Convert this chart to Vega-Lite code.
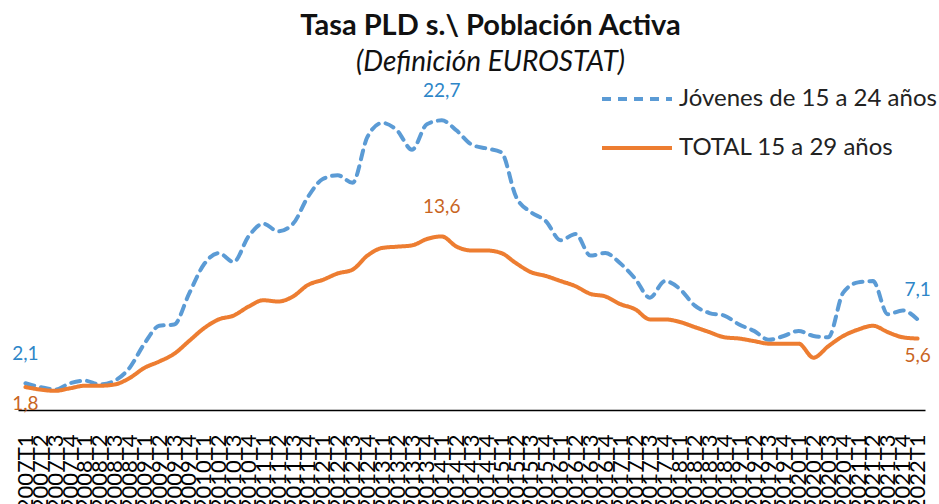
{
  "$schema": "https://vega.github.io/schema/vega-lite/v6.json",
  "width": 907,
  "height": 319,
  "autosize": "none",
  "padding": {"left": 18, "top": 91, "right": 14, "bottom": 94},
  "config": {
    "locale": {"number": {"decimal": ",", "thousands": ".", "grouping": [3], "currency": ["", " €"]}},
    "view": {"stroke": null},
    "font": "Lato"
  },
  "title": {
    "text": "Tasa PLD s.\\ Población Activa",
    "subtitle": "(Definición EUROSTAT)",
    "font": "Lato",
    "fontSize": 29,
    "fontWeight": "bold",
    "color": "#111111",
    "subtitleFont": "Lato",
    "subtitleFontSize": 28,
    "subtitleFontStyle": "italic",
    "subtitleColor": "#111111",
    "subtitlePadding": 8,
    "anchor": "middle",
    "dx": 19,
    "offset": -15
  },
  "data": {
    "values": [
      {"q": "2007T1", "Jóvenes de 15 a 24 años": 2.1, "TOTAL 15 a 29 años": 1.8},
      {"q": "2007T2", "Jóvenes de 15 a 24 años": 1.8, "TOTAL 15 a 29 años": 1.6},
      {"q": "2007T3", "Jóvenes de 15 a 24 años": 1.6, "TOTAL 15 a 29 años": 1.5},
      {"q": "2007T4", "Jóvenes de 15 a 24 años": 2.1, "TOTAL 15 a 29 años": 1.7},
      {"q": "2008T1", "Jóvenes de 15 a 24 años": 2.3, "TOTAL 15 a 29 años": 1.9},
      {"q": "2008T2", "Jóvenes de 15 a 24 años": 2.0, "TOTAL 15 a 29 años": 1.9},
      {"q": "2008T3", "Jóvenes de 15 a 24 años": 2.3, "TOTAL 15 a 29 años": 2.0},
      {"q": "2008T4", "Jóvenes de 15 a 24 años": 3.3, "TOTAL 15 a 29 años": 2.5},
      {"q": "2009T1", "Jóvenes de 15 a 24 años": 5.2, "TOTAL 15 a 29 años": 3.3},
      {"q": "2009T2", "Jóvenes de 15 a 24 años": 6.6, "TOTAL 15 a 29 años": 3.8},
      {"q": "2009T3", "Jóvenes de 15 a 24 años": 6.7, "TOTAL 15 a 29 años": 4.4},
      {"q": "2009T4", "Jóvenes de 15 a 24 años": 9.1, "TOTAL 15 a 29 años": 5.4},
      {"q": "2010T1", "Jóvenes de 15 a 24 años": 11.4, "TOTAL 15 a 29 años": 6.4},
      {"q": "2010T2", "Jóvenes de 15 a 24 años": 12.3, "TOTAL 15 a 29 años": 7.1},
      {"q": "2010T3", "Jóvenes de 15 a 24 años": 11.6, "TOTAL 15 a 29 años": 7.4},
      {"q": "2010T4", "Jóvenes de 15 a 24 años": 13.6, "TOTAL 15 a 29 años": 8.1},
      {"q": "2011T1", "Jóvenes de 15 a 24 años": 14.6, "TOTAL 15 a 29 años": 8.6},
      {"q": "2011T2", "Jóvenes de 15 a 24 años": 14.0, "TOTAL 15 a 29 años": 8.5},
      {"q": "2011T3", "Jóvenes de 15 a 24 años": 14.6, "TOTAL 15 a 29 años": 8.9},
      {"q": "2011T4", "Jóvenes de 15 a 24 años": 16.7, "TOTAL 15 a 29 años": 9.8},
      {"q": "2012T1", "Jóvenes de 15 a 24 años": 18.1, "TOTAL 15 a 29 años": 10.2},
      {"q": "2012T2", "Jóvenes de 15 a 24 años": 18.4, "TOTAL 15 a 29 años": 10.7},
      {"q": "2012T3", "Jóvenes de 15 a 24 años": 17.8, "TOTAL 15 a 29 años": 11.0},
      {"q": "2012T4", "Jóvenes de 15 a 24 años": 21.4, "TOTAL 15 a 29 años": 12.1},
      {"q": "2013T1", "Jóvenes de 15 a 24 años": 22.5, "TOTAL 15 a 29 años": 12.7},
      {"q": "2013T2", "Jóvenes de 15 a 24 años": 21.9, "TOTAL 15 a 29 años": 12.8},
      {"q": "2013T3", "Jóvenes de 15 a 24 años": 20.4, "TOTAL 15 a 29 años": 12.9},
      {"q": "2013T4", "Jóvenes de 15 a 24 años": 22.4, "TOTAL 15 a 29 años": 13.4},
      {"q": "2014T1", "Jóvenes de 15 a 24 años": 22.7, "TOTAL 15 a 29 años": 13.6},
      {"q": "2014T2", "Jóvenes de 15 a 24 años": 21.9, "TOTAL 15 a 29 años": 12.8},
      {"q": "2014T3", "Jóvenes de 15 a 24 años": 20.8, "TOTAL 15 a 29 años": 12.5},
      {"q": "2014T4", "Jóvenes de 15 a 24 años": 20.5, "TOTAL 15 a 29 años": 12.5},
      {"q": "2015T1", "Jóvenes de 15 a 24 años": 20.2, "TOTAL 15 a 29 años": 12.3},
      {"q": "2015T2", "Jóvenes de 15 a 24 años": 16.7, "TOTAL 15 a 29 años": 11.5},
      {"q": "2015T3", "Jóvenes de 15 a 24 años": 15.5, "TOTAL 15 a 29 años": 10.8},
      {"q": "2015T4", "Jóvenes de 15 a 24 años": 14.8, "TOTAL 15 a 29 años": 10.5},
      {"q": "2016T1", "Jóvenes de 15 a 24 años": 13.3, "TOTAL 15 a 29 años": 10.1},
      {"q": "2016T2", "Jóvenes de 15 a 24 años": 13.8, "TOTAL 15 a 29 años": 9.7},
      {"q": "2016T3", "Jóvenes de 15 a 24 años": 12.1, "TOTAL 15 a 29 años": 9.1},
      {"q": "2016T4", "Jóvenes de 15 a 24 años": 12.3, "TOTAL 15 a 29 años": 8.9},
      {"q": "2017T1", "Jóvenes de 15 a 24 años": 11.5, "TOTAL 15 a 29 años": 8.3},
      {"q": "2017T2", "Jóvenes de 15 a 24 años": 10.3, "TOTAL 15 a 29 años": 7.9},
      {"q": "2017T3", "Jóvenes de 15 a 24 años": 8.8, "TOTAL 15 a 29 años": 7.1},
      {"q": "2017T4", "Jóvenes de 15 a 24 años": 10.1, "TOTAL 15 a 29 años": 7.1},
      {"q": "2018T1", "Jóvenes de 15 a 24 años": 9.5, "TOTAL 15 a 29 años": 6.9},
      {"q": "2018T2", "Jóvenes de 15 a 24 años": 8.2, "TOTAL 15 a 29 años": 6.5},
      {"q": "2018T3", "Jóvenes de 15 a 24 años": 7.6, "TOTAL 15 a 29 años": 6.1},
      {"q": "2018T4", "Jóvenes de 15 a 24 años": 7.4, "TOTAL 15 a 29 años": 5.7},
      {"q": "2019T1", "Jóvenes de 15 a 24 años": 6.7, "TOTAL 15 a 29 años": 5.6},
      {"q": "2019T2", "Jóvenes de 15 a 24 años": 6.2, "TOTAL 15 a 29 años": 5.4},
      {"q": "2019T3", "Jóvenes de 15 a 24 años": 5.5, "TOTAL 15 a 29 años": 5.2},
      {"q": "2019T4", "Jóvenes de 15 a 24 años": 5.8, "TOTAL 15 a 29 años": 5.2},
      {"q": "2020T1", "Jóvenes de 15 a 24 años": 6.2, "TOTAL 15 a 29 años": 5.2},
      {"q": "2020T2", "Jóvenes de 15 a 24 años": 5.8, "TOTAL 15 a 29 años": 4.1},
      {"q": "2020T3", "Jóvenes de 15 a 24 años": 5.7, "TOTAL 15 a 29 años": 5.0},
      {"q": "2020T4", "Jóvenes de 15 a 24 años": 9.2, "TOTAL 15 a 29 años": 5.8},
      {"q": "2021T1", "Jóvenes de 15 a 24 años": 10.0, "TOTAL 15 a 29 años": 6.3},
      {"q": "2021T2", "Jóvenes de 15 a 24 años": 10.1, "TOTAL 15 a 29 años": 6.6},
      {"q": "2021T3", "Jóvenes de 15 a 24 años": 7.5, "TOTAL 15 a 29 años": 6.1},
      {"q": "2021T4", "Jóvenes de 15 a 24 años": 7.8, "TOTAL 15 a 29 años": 5.7},
      {"q": "2022T1", "Jóvenes de 15 a 24 años": 7.1, "TOTAL 15 a 29 años": 5.6}
    ]
  },
  "transform": [
    {"fold": ["Jóvenes de 15 a 24 años", "TOTAL 15 a 29 años"], "as": ["serie", "v"]}
  ],
  "encoding": {
    "x": {
      "field": "q",
      "type": "ordinal",
      "sort": null,
      "scale": {"type": "point", "padding": 0.5},
      "axis": {
        "title": null,
        "labelAngle": 270,
        "labelFont": "Lato",
        "labelFontSize": 22,
        "labelColor": "#000000",
        "labelPadding": 24,
        "labelOverlap": false,
        "labelBound": false,
        "labelLimit": 0,
        "ticks": false,
        "grid": false,
        "domainColor": "#000000",
        "domainWidth": 1.5
      }
    },
    "y": {
      "field": "v",
      "type": "quantitative",
      "scale": {"domain": [0, 25], "nice": false, "zero": true},
      "axis": null
    }
  },
  "layer": [
    {
      "mark": {"type": "line", "interpolate": "monotone", "strokeWidth": 4, "strokeCap": "round"},
      "encoding": {
        "color": {
          "field": "serie",
          "type": "nominal",
          "scale": {"domain": ["Jóvenes de 15 a 24 años", "TOTAL 15 a 29 años"], "range": ["#5B9BD5", "#ED7D31"]},
          "legend": {
            "title": null,
            "orient": "none",
            "legendX": 582,
            "legendY": -29,
            "symbolType": "stroke",
            "symbolSize": 4900,
            "symbolStrokeWidth": 4,
            "labelFont": "Lato",
            "labelFontSize": 24,
            "labelColor": "#222222",
            "labelOffset": 5,
            "labelLimit": 0,
            "rowPadding": 0
          }
        },
        "strokeDash": {
          "field": "serie",
          "type": "nominal",
          "scale": {"domain": ["Jóvenes de 15 a 24 años", "TOTAL 15 a 29 años"], "range": [[9, 7], [1, 0]]},
          "legend": {
            "title": null,
            "orient": "none",
            "legendX": 582,
            "legendY": -29,
            "symbolType": "stroke",
            "symbolSize": 4900,
            "symbolStrokeWidth": 4,
            "labelFont": "Lato",
            "labelFontSize": 24,
            "labelColor": "#222222",
            "labelOffset": 5,
            "labelLimit": 0,
            "rowPadding": 0
          }
        }
      }
    },
    {
      "transform": [
        {"filter": "datum.serie == 'Jóvenes de 15 a 24 años' && (datum.q == '2007T1' || datum.q == '2014T1' || datum.q == '2022T1')"}
      ],
      "mark": {"type": "text", "color": "#2E86C8", "font": "Lato", "fontSize": 19, "dy": -29},
      "encoding": {"text": {"field": "v", "type": "quantitative", "format": ".1f"}}
    },
    {
      "transform": [
        {"filter": "datum.serie == 'TOTAL 15 a 29 años' && datum.q == '2014T1'"}
      ],
      "mark": {"type": "text", "color": "#C9651F", "font": "Lato", "fontSize": 19, "dy": -29},
      "encoding": {"text": {"field": "v", "type": "quantitative", "format": ".1f"}}
    },
    {
      "transform": [
        {"filter": "datum.serie == 'TOTAL 15 a 29 años' && (datum.q == '2007T1' || datum.q == '2022T1')"}
      ],
      "mark": {"type": "text", "color": "#C9651F", "font": "Lato", "fontSize": 19, "dy": 17},
      "encoding": {"text": {"field": "v", "type": "quantitative", "format": ".1f"}}
    }
  ]
}
